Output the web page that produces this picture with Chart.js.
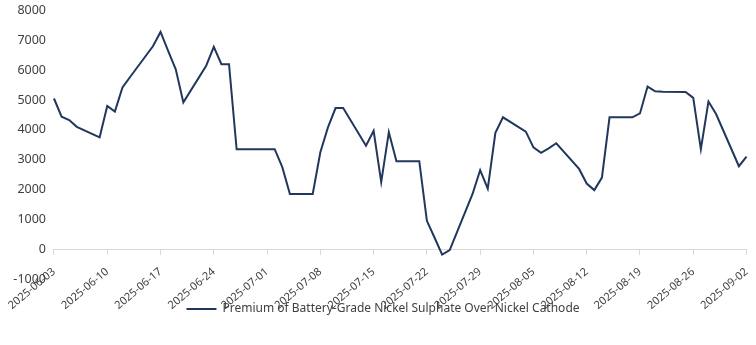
<!DOCTYPE html>
<html>
<head>
<meta charset="utf-8">
<script src="https://cdn.jsdelivr.net/npm/chart.js@4/dist/chart.umd.min.js"></script>
<style>
  html, body { margin: 0; padding: 0; background: #ffffff; }
  #wrap { width: 756px; height: 345px; position: relative; overflow: hidden; }
  #inner { position: absolute; left: -1px; top: -5px; width: 767px; height: 350px; }
</style>
</head>
<body>
<div id="wrap"><div id="inner"><canvas id="c"></canvas></div></div>
<script>
// Trading dates (weekdays) and premium values (yuan/mt)
const dates = [
  '2025-06-03','2025-06-04','2025-06-05','2025-06-06','2025-06-09','2025-06-10','2025-06-11','2025-06-12','2025-06-13',
  '2025-06-16','2025-06-17','2025-06-18','2025-06-19','2025-06-20','2025-06-23','2025-06-24','2025-06-25','2025-06-26','2025-06-27',
  '2025-06-30','2025-07-01','2025-07-02','2025-07-03','2025-07-04','2025-07-07','2025-07-08','2025-07-09','2025-07-10','2025-07-11',
  '2025-07-14','2025-07-15','2025-07-16','2025-07-17','2025-07-18','2025-07-21','2025-07-22','2025-07-23','2025-07-24','2025-07-25',
  '2025-07-28','2025-07-29','2025-07-30','2025-07-31','2025-08-01','2025-08-04','2025-08-05','2025-08-06','2025-08-07','2025-08-08',
  '2025-08-11','2025-08-12','2025-08-13','2025-08-14','2025-08-15','2025-08-18','2025-08-19','2025-08-20','2025-08-21','2025-08-22',
  '2025-08-25','2025-08-26','2025-08-27','2025-08-28','2025-08-29','2025-09-01','2025-09-02'
];
const premium = [
  5050, 4440, 4330, 4100, 3750, 4800, 4610, 5420, 5770,
  6800, 7280, 6650, 6030, 4920, 6150, 6780, 6200, 6200, 3350,
  3350, 3350, 3350, 2750, 1850, 1850, 3250, 4080, 4730, 4730,
  3470, 3970, 2250, 3920, 2950, 2950, 950, 390, -180, -30,
  1850, 2650, 2030, 3900, 4420, 3940, 3410, 3230, 3380, 3550,
  2690, 2200, 1980, 2400, 4420, 4420, 4550, 5450, 5290, 5280,
  5270, 5070, 3350, 4950, 4530, 2780, 3100
];
const seriesName = 'Premium of Battery-Grade Nickel Sulphate Over Nickel Cathode';
const startDate = '2025-06-03';
const endDate = '2025-09-02';
const labelEvery = 7;   // one tick label per week
const yMin = -1000, yMax = 8000, yStep = 1000;

// Calendar-day category labels (weekends have no value; the line spans them)
function ymd(d) {
  const m = String(d.getUTCMonth() + 1).padStart(2, '0');
  const dd = String(d.getUTCDate()).padStart(2, '0');
  return d.getUTCFullYear() + '-' + m + '-' + dd;
}
const labels = [];
for (let d = new Date(startDate + 'T00:00:00Z'); d <= new Date(endDate + 'T00:00:00Z'); d.setUTCDate(d.getUTCDate() + 1)) {
  labels.push(ymd(d));
}
const valueByDate = {};
dates.forEach((d, i) => { valueByDate[d] = premium[i]; });
const series = labels.map(l => (l in valueByDate ? valueByDate[l] : null));

const FONT = 'Noto Sans';
const TXT = '#404040';

new Chart(document.getElementById('c'), {
  type: 'line',
  data: {
    labels: labels,
    datasets: [{
      label: seriesName,
      data: series,
      borderColor: '#22375e',
      backgroundColor: '#22375e',
      borderWidth: 2,
      pointRadius: 0,
      pointHoverRadius: 0,
      tension: 0,
      spanGaps: true
    }]
  },
  options: {
    responsive: true,
    maintainAspectRatio: false,
    animation: false,
    layout: { padding: { left: 4, right: 3, top: 0, bottom: 20 } },
    plugins: {
      tooltip: { enabled: false },
      legend: {
        display: true,
        position: 'bottom',
        labels: {
          usePointStyle: true,
          pointStyle: 'line',
          pointStyleWidth: 30,
          color: TXT,
          font: { family: FONT, size: 12 },
          padding: 24
        }
      }
    },
    scales: {
      x: {
        type: 'category',
        position: { y: 0 },
        offset: false,
        border: { display: true, color: '#d9d9d9', width: 1 },
        grid: { display: true, drawOnChartArea: false, drawTicks: true, tickLength: 5, color: '#d9d9d9' },
        afterBuildTicks: (scale) => {
          scale.ticks = scale.ticks.filter(t => t.value % labelEvery === 0);
        },
        ticks: {
          autoSkip: false,
          minRotation: 40,
          maxRotation: 40,
          color: TXT,
          padding: 11,
          font: { family: FONT, size: 11 }
        }
      },
      y: {
        min: yMin,
        max: yMax,
        border: { display: false },
        grid: { display: false, drawTicks: false },
        ticks: {
          stepSize: yStep,
          color: TXT,
          padding: 8,
          font: { family: FONT, size: 12.5 },
          callback: (v) => String(v)
        }
      }
    }
  }
});
</script>
</body>
</html>
